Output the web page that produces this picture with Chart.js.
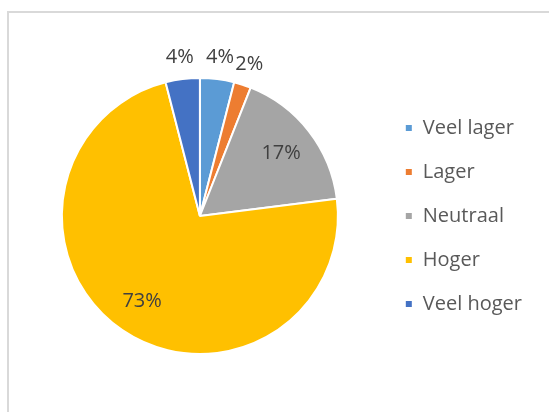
<!DOCTYPE html>
<html>
<head>
<meta charset="utf-8">
<script src="https://cdn.jsdelivr.net/npm/chart.js@4"></script>
<style>
  html, body { margin: 0; padding: 0; background: #fff; }
  body { width: 549px; height: 412px; position: relative; overflow: hidden; }
  #frame { position: absolute; left: 7px; top: 11px; width: 560px; height: 420px;
           border-top: 2px solid #d9d9d9; border-left: 2px solid #d9d9d9; box-sizing: border-box; }
  #wrap { position: absolute; left: 0; top: 13px; width: 549px; height: 399px; }
</style>
</head>
<body>
<div id="frame"></div>
<div id="wrap"><canvas id="c"></canvas></div>
<script>
const categories = ["Veel lager", "Lager", "Neutraal", "Hoger", "Veel hoger"];
const values = [4, 2, 17, 73, 4];
const labelsText = ["4%", "2%", "17%", "73%", "4%"];
const colors = ["#5B9BD5", "#ED7D31", "#A5A5A5", "#FFC000", "#4472C4"];

const FONT = "'Open Sans', 'Noto Sans', sans-serif";

const pieLabels = {
  id: 'pieLabels',
  afterDatasetsDraw(chart) {
    const ctx = chart.ctx;
    const meta = chart.getDatasetMeta(0);
    ctx.save();
    ctx.font = "20px " + FONT;
    ctx.fillStyle = "#404040";
    ctx.textAlign = "center";
    ctx.textBaseline = "middle";
    const total = values.reduce((a,b)=>a+b,0);
    meta.data.forEach((arc, i) => {
      const p = arc.getProps(['x','y','startAngle','endAngle','outerRadius'], true);
      const mid = (p.startAngle + p.endAngle) / 2;
      const share = values[i] / total;
      const r = share < 0.1 ? p.outerRadius + 22 : p.outerRadius * 0.745;
      ctx.fillText(labelsText[i], p.x + Math.cos(mid) * r, p.y + Math.sin(mid) * r);
    });
    ctx.restore();
  }
};

new Chart(document.getElementById('c'), {
  type: 'pie',
  data: {
    labels: categories,
    datasets: [{
      data: values,
      backgroundColor: colors,
      borderColor: "#ffffff",
      borderWidth: 2
    }]
  },
  options: {
    responsive: true,
    maintainAspectRatio: false,
    animation: false,
    layout: { padding: { top: 64, bottom: 57, left: 19, right: 17 } },
    plugins: {
      tooltip: { enabled: false },
      legend: {
        position: 'right',
        labels: {
          boxWidth: 8, boxHeight: 8, padding: 24,
          color: "#595959",
          font: { size: 20, family: FONT }
        }
      }
    }
  },
  plugins: [pieLabels]
});
</script>
</body>
</html>
